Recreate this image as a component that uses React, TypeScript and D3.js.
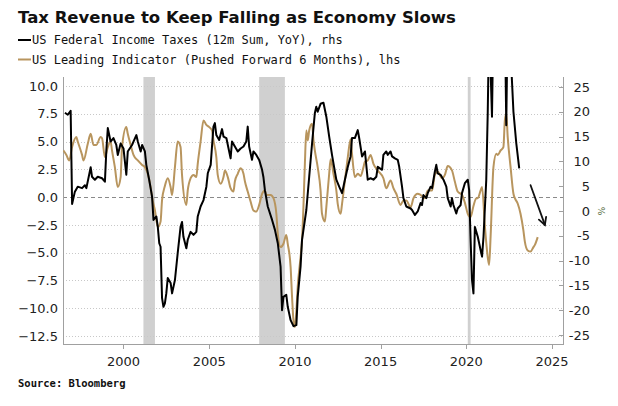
import React, { useEffect, useRef } from "react";
import * as d3 from "d3";

// US Federal Income Taxes (12m Sum, YoY), rhs
const federalTaxes: [string, number][] = [
  ["1996-08", 19.8], ["1996-10", 19.4], ["1996-12", 20.2], ["1997-01", 1.4],
  ["1997-03", 3.9], ["1997-05", 4.9], ["1997-08", 4.6], ["1997-10", 5.2],
  ["1997-11", 4.6], ["1998-02", 8.8], ["1998-03", 6.9], ["1998-05", 6.3],
  ["1998-07", 6.9], ["1998-10", 6.6], ["1998-12", 5.9], ["1999-01", 12.3],
  ["1999-02", 16.7], ["1999-04", 14.0], ["1999-06", 14.7], ["1999-08", 13.3],
  ["1999-09", 11.3], ["1999-11", 13.6], ["2000-01", 12.6], ["2000-03", 7.3],
  ["2000-04", 12.0], ["2000-07", 13.3], ["2000-08", 14.0], ["2000-10", 15.3],
  ["2000-11", 14.0], ["2001-01", 12.0], ["2001-02", 13.3], ["2001-04", 12.0],
  ["2001-05", 9.3], ["2001-07", 6.3], ["2001-09", 2.9], ["2001-10", -1.8],
  ["2001-12", -1.1], ["2002-01", -3.2], ["2002-02", -6.5], ["2002-03", -7.2],
  ["2002-04", -17.5], ["2002-05", -19.3], ["2002-06", -18.6], ["2002-07", -16.6],
  ["2002-08", -13.5], ["2002-10", -14.5], ["2002-11", -16.6], ["2003-01", -13.9],
  ["2003-03", -8.5], ["2003-05", -3.2], ["2003-06", -2.2], ["2003-07", -5.2],
  ["2003-09", -7.5], ["2003-10", -5.8], ["2003-12", -4.2], ["2004-02", -4.8],
  ["2004-04", -4.2], ["2004-05", -1.1], ["2004-07", 0.9], ["2004-09", 2.2],
  ["2004-11", 4.9], ["2004-12", 7.6], ["2005-02", 9.3], ["2005-03", 13.0],
  ["2005-04", 17.0], ["2005-05", 17.7], ["2005-06", 15.3], ["2005-08", 14.3],
  ["2005-10", 16.5], ["2005-11", 15.0], ["2006-01", 14.7], ["2006-02", 13.3],
  ["2006-04", 10.6], ["2006-05", 14.0], ["2006-07", 13.0], ["2006-09", 12.0],
  ["2006-11", 12.6], ["2007-01", 13.0], ["2007-03", 14.0], ["2007-04", 17.0],
  ["2007-05", 13.0], ["2007-07", 10.3], ["2007-08", 12.0], ["2007-10", 11.3],
  ["2007-12", 10.3], ["2008-02", 8.3], ["2008-03", 6.8], ["2008-04", 4.2],
  ["2008-06", 0.9], ["2008-09", -1.8], ["2008-11", -3.8], ["2009-01", -6.5],
  ["2009-03", -11.2], ["2009-04", -20.0], ["2009-05", -17.3], ["2009-07", -16.9],
  ["2009-08", -19.3], ["2009-10", -22.0], ["2009-12", -23.2], ["2010-02", -23.0],
  ["2010-03", -17.3], ["2010-05", -11.2], ["2010-06", -5.8], ["2010-09", 0.2],
  ["2010-11", 6.9], ["2011-01", 13.6], ["2011-03", 19.7], ["2011-04", 21.0],
  ["2011-05", 20.0], ["2011-07", 21.6], ["2011-09", 21.8], ["2011-11", 19.0],
  ["2012-01", 15.0], ["2012-03", 11.3], ["2012-04", 9.6], ["2012-06", 6.3],
  ["2012-08", 4.9], ["2012-10", 3.6], ["2012-12", 6.3], ["2013-02", 8.9],
  ["2013-04", 11.0], ["2013-05", 14.7], ["2013-07", 14.7], ["2013-09", 16.3],
  ["2013-10", 14.7], ["2013-12", 11.0], ["2014-02", 12.0], ["2014-04", 6.3],
  ["2014-06", 6.6], ["2014-08", 6.3], ["2014-10", 6.9], ["2014-11", 8.9],
  ["2015-02", 8.3], ["2015-03", 11.3], ["2015-05", 12.0], ["2015-06", 11.3],
  ["2015-08", 12.0], ["2015-09", 11.0], ["2015-11", 10.6], ["2016-01", 10.3],
  ["2016-02", 8.9], ["2016-04", 4.9], ["2016-05", 2.6], ["2016-07", 0.9],
  ["2016-10", 0.5], ["2016-11", 0.2], ["2017-01", -0.8], ["2017-03", -0.1],
  ["2017-05", 1.6], ["2017-06", 1.2], ["2017-07", 3.2], ["2017-09", 2.6],
  ["2017-10", 3.6], ["2017-12", 4.9], ["2018-01", 4.6], ["2018-03", 7.9],
  ["2018-04", 9.3], ["2018-05", 7.6], ["2018-07", 7.3], ["2018-09", 6.3],
  ["2018-11", 4.9], ["2018-12", 2.6], ["2019-02", 0.9], ["2019-03", 2.6],
  ["2019-04", 1.2], ["2019-06", -0.5], ["2019-07", 0.5], ["2019-09", 1.2],
  ["2019-10", 3.6], ["2019-12", 5.6], ["2020-02", 6.3], ["2020-03", 4.2],
  ["2020-04", -5.8], ["2020-05", -13.9], ["2020-06", -16.6], ["2020-07", -3.2],
  ["2020-09", -5.2], ["2020-11", -7.9], ["2020-12", -9.2], ["2021-01", -5.2],
  ["2021-03", 6.3], ["2021-04", 19.7], ["2021-05", 38], ["2021-07", 19.0],
  ["2021-08", 40], ["2021-10", 48], ["2022-01", 45], ["2022-04", 40],
  ["2022-05", 17.3], ["2022-06", 40], ["2022-08", 32], ["2022-10", 20],
  ["2022-12", 13.6], ["2023-02", 8.6],
];

// US Leading Indicator (Pushed Forward 6 Months), lhs
const leadingIndicator: [string, number][] = [
  ["1996-07", 4.2], ["1996-09", 3.8], ["1996-11", 3.3], ["1997-01", 4.5],
  ["1997-04", 5.4], ["1997-05", 5.0], ["1997-08", 3.8], ["1997-09", 3.3],
  ["1997-12", 4.8], ["1998-02", 5.7], ["1998-04", 4.7], ["1998-06", 4.7],
  ["1998-09", 5.4], ["1998-10", 5.3], ["1998-12", 3.6], ["1999-02", 4.5],
  ["1999-04", 5.0], ["1999-05", 4.2], ["1999-07", 2.7], ["1999-09", 0.9],
  ["1999-11", 1.8], ["1999-12", 4.5], ["2000-03", 6.3], ["2000-04", 5.7],
  ["2000-06", 4.7], ["2000-08", 3.8], ["2000-11", 3.3], ["2001-02", 2.9],
  ["2001-04", 2.7], ["2001-06", 2.1], ["2001-08", 0.9], ["2001-09", 0.0],
  ["2001-11", -1.2], ["2002-01", -2.7], ["2002-03", -2.2], ["2002-04", -0.3],
  ["2002-06", 1.0], ["2002-08", 1.7], ["2002-10", 0.9], ["2002-11", 0.2],
  ["2003-01", 2.7], ["2003-03", 5.0], ["2003-05", 4.5], ["2003-06", 2.0],
  ["2003-09", -0.7], ["2003-10", 0.6], ["2003-12", 1.7], ["2004-02", 2.0],
  ["2004-04", 1.8], ["2004-05", 3.0], ["2004-07", 5.0], ["2004-09", 6.9],
  ["2004-11", 6.5], ["2005-01", 6.3], ["2005-03", 6.0], ["2005-04", 5.1],
  ["2005-06", 3.6], ["2005-07", 2.0], ["2005-09", 1.2], ["2005-11", 1.8],
  ["2005-12", 2.4], ["2006-02", 1.8], ["2006-04", 0.8], ["2006-06", 0.5],
  ["2006-07", 1.4], ["2006-09", 2.1], ["2006-11", 2.6], ["2007-01", 2.1],
  ["2007-02", 1.4], ["2007-04", 0.5], ["2007-06", -0.4], ["2007-08", -1.2],
  ["2007-10", -1.3], ["2007-12", -0.7], ["2008-02", 0.3], ["2008-04", 0.6],
  ["2008-05", 0.2], ["2008-08", 0.2], ["2008-10", -0.1], ["2008-12", -1.5],
  ["2009-01", -3.3], ["2009-03", -4.5], ["2009-05", -4.2], ["2009-07", -3.4],
  ["2009-08", -4.2], ["2009-10", -6.3], ["2009-11", -9.0], ["2009-12", -11.1],
  ["2010-01", -11.7], ["2010-02", -10.2], ["2010-03", -8.1], ["2010-05", -5.4],
  ["2010-06", -3.9], ["2010-07", -0.9], ["2010-08", 3.0], ["2010-09", 6.0],
  ["2010-10", 5.1], ["2010-11", 6.0], ["2011-01", 6.6], ["2011-02", 5.1],
  ["2011-03", 4.2], ["2011-05", 2.7], ["2011-07", 0.6], ["2011-08", -1.5],
  ["2011-10", -2.2], ["2011-11", -0.9], ["2012-01", 2.1], ["2012-02", 3.4],
  ["2012-04", 2.1], ["2012-06", 0.6], ["2012-07", -0.6], ["2012-09", -1.5],
  ["2012-10", -0.6], ["2012-12", 1.5], ["2013-02", 3.6], ["2013-04", 5.2],
  ["2013-05", 3.9], ["2013-07", 1.8], ["2013-09", 2.1], ["2013-11", 1.9],
  ["2014-01", 2.7], ["2014-02", 3.2], ["2014-04", 3.3], ["2014-06", 3.8],
  ["2014-08", 3.0], ["2014-11", 2.4], ["2015-03", 1.7], ["2015-05", 0.8],
  ["2015-08", 1.5], ["2015-10", 0.8], ["2015-12", 0.3], ["2016-03", -0.7],
  ["2016-05", -0.3], ["2016-07", -0.3], ["2016-10", -0.9], ["2016-12", -0.1],
  ["2017-03", 0.3], ["2017-05", 0.2], ["2017-08", -0.1], ["2017-10", 0.6],
  ["2018-01", 0.6], ["2018-03", 2.0], ["2018-05", 2.3], ["2018-08", 1.7],
  ["2018-10", 2.0], ["2018-12", 2.8], ["2019-03", 2.4], ["2019-05", 1.4],
  ["2019-07", 0.5], ["2019-10", 0.2], ["2019-12", -0.5], ["2020-02", -1.5],
  ["2020-04", -1.8], ["2020-06", -0.8], ["2020-08", -0.1], ["2020-09", -0.1],
  ["2020-11", 0.6], ["2020-12", 0.9], ["2021-02", -2.7], ["2021-04", -5.4],
  ["2021-05", -6.1], ["2021-06", -3.6], ["2021-08", 2.7], ["2021-10", 3.9],
  ["2021-11", 3.8], ["2022-01", 4.2], ["2022-03", 4.5], ["2022-04", 6.9],
  ["2022-05", 7.5], ["2022-06", 5.4], ["2022-08", 2.7], ["2022-10", 0.3],
  ["2022-11", -0.1], ["2023-01", -0.6], ["2023-03", -1.5], ["2023-05", -3.0],
  ["2023-06", -4.0], ["2023-08", -4.8], ["2023-10", -4.9], ["2023-12", -4.5],
  ["2024-01", -4.3], ["2024-03", -3.6],
];

// NBER recessions
const recessions: [string, string][] = [
  ["2001-03", "2001-11"],
  ["2007-12", "2009-06"],
  ["2020-02", "2020-04"],
];

const leftTicks = [10, 7.5, 5, 2.5, 0, -2.5, -5, -7.5, -10, -12.5];
const rightTicks = [25, 20, 15, 10, 5, 0, -5, -10, -15, -20, -25];
const yearTicks = [2000, 2005, 2010, 2015, 2020, 2025];

// hand drawn arrow: start/end as [month, rhs value]
const arrowNote: [string, number][] = [
  ["2023-10", 5.2],
  ["2024-08", -2.8],
];

const title = "Tax Revenue to Keep Falling as Economy Slows";
const legendItems = [
  { label: "US Federal Income Taxes (12m Sum, YoY), rhs", color: "#000000" },
  { label: "US Leading Indicator (Pushed Forward 6 Months), lhs", color: "#b8955e" },
];

const TaxChart = () => {
  const ref = useRef<HTMLDivElement>(null);

  useEffect(() => {
    const width = 618;
    const height = 406;
    const plot = { left: 63, right: 563, top: 77, bottom: 344 };
    const parse = d3.timeParse("%Y-%m")!;
    const sans = "'DejaVu Sans', Verdana, sans-serif";
    const mono = "'DejaVu Sans Mono', monospace";

    const root = d3.select(ref.current);
    root.select("svg").remove();

    const svg = root
      .append("svg")
      .attr("width", width)
      .attr("height", height)
      .style("position", "absolute")
      .style("left", "0px")
      .style("top", "0px")
      .style("background", "#ffffff");

    const x = d3
      .scaleTime()
      .domain([new Date(1996, 5, 21), new Date(2025, 7, 22)])
      .range([plot.left, plot.right]);
    const yL = d3.scaleLinear().domain([-13.22, 10.81]).range([plot.bottom, plot.top]);
    const yR = d3.scaleLinear().domain([-26.8, 27.0]).range([plot.bottom, plot.top]);

    svg
      .append("defs")
      .append("clipPath")
      .attr("id", "plot-clip")
      .append("rect")
      .attr("x", plot.left)
      .attr("y", plot.top)
      .attr("width", plot.right - plot.left)
      .attr("height", plot.bottom - plot.top);

    // recession shading
    svg
      .append("g")
      .selectAll("rect")
      .data(recessions)
      .join("rect")
      .attr("x", (d) => x(parse(d[0])!))
      .attr("width", (d) => Math.max(2.5, x(parse(d[1])!) - x(parse(d[0])!)))
      .attr("y", plot.top)
      .attr("height", plot.bottom - plot.top)
      .attr("fill", "#d0d0d0");

    // dotted gridlines at left ticks
    svg
      .append("g")
      .selectAll("line")
      .data(leftTicks.filter((t) => t !== 0))
      .join("line")
      .attr("x1", plot.left)
      .attr("x2", plot.right)
      .attr("y1", (d) => Math.round(yL(d)) + 0.5)
      .attr("y2", (d) => Math.round(yL(d)) + 0.5)
      .attr("stroke", "#c8c8c8")
      .attr("stroke-width", 1)
      .attr("stroke-dasharray", "1,2");

    // zero line
    svg
      .append("line")
      .attr("x1", plot.left)
      .attr("x2", plot.right)
      .attr("y1", Math.round(yL(0)) + 0.5)
      .attr("y2", Math.round(yL(0)) + 0.5)
      .attr("stroke", "#8a8a8a")
      .attr("stroke-width", 1)
      .attr("stroke-dasharray", "4,3");

    // frame
    const frame = svg.append("g").attr("stroke", "#a0a0a0").attr("stroke-width", 1);
    frame.append("line").attr("x1", plot.left + 0.5).attr("x2", plot.left + 0.5).attr("y1", plot.top).attr("y2", plot.bottom);
    frame.append("line").attr("x1", plot.right + 0.5).attr("x2", plot.right + 0.5).attr("y1", plot.top).attr("y2", plot.bottom);
    frame.append("line").attr("x1", plot.left).attr("x2", plot.right + 1).attr("y1", plot.bottom + 0.5).attr("y2", plot.bottom + 0.5);

    // right ticks (inside)
    frame
      .selectAll("line.rt")
      .data(rightTicks)
      .join("line")
      .attr("class", "rt")
      .attr("x1", plot.right - 4)
      .attr("x2", plot.right)
      .attr("y1", (d) => Math.round(yR(d)) + 0.5)
      .attr("y2", (d) => Math.round(yR(d)) + 0.5);

    // x ticks
    frame
      .selectAll("line.xt")
      .data(yearTicks)
      .join("line")
      .attr("class", "xt")
      .attr("x1", (d) => Math.round(x(new Date(d, 0, 1))) + 0.5)
      .attr("x2", (d) => Math.round(x(new Date(d, 0, 1))) + 0.5)
      .attr("y1", plot.bottom)
      .attr("y2", plot.bottom + 5);

    // lines
    const lines = svg.append("g").attr("clip-path", "url(#plot-clip)");

    const leiLine = d3
      .line<[string, number]>()
      .x((d) => x(parse(d[0])!))
      .y((d) => yL(d[1]))
      .curve(d3.curveMonotoneX);

    const taxLine = d3
      .line<[string, number]>()
      .x((d) => x(parse(d[0])!))
      .y((d) => yR(d[1]));

    lines
      .append("path")
      .datum(leadingIndicator)
      .attr("d", leiLine)
      .attr("fill", "none")
      .attr("stroke", legendItems[1].color)
      .attr("stroke-width", 2)
      .attr("stroke-linejoin", "round");

    lines
      .append("path")
      .datum(federalTaxes)
      .attr("d", taxLine)
      .attr("fill", "none")
      .attr("stroke", legendItems[0].color)
      .attr("stroke-width", 2)
      .attr("stroke-linejoin", "round");

    // arrow annotation
    const [a0, a1] = arrowNote;
    const ax0 = x(parse(a0[0])!);
    const ay0 = yR(a0[1]);
    const ax1 = x(parse(a1[0])!);
    const ay1 = yR(a1[1]);
    const ang = Math.atan2(ay1 - ay0, ax1 - ax0);
    const head = 8;
    const arrow = svg.append("g").attr("stroke", "#111").attr("stroke-width", 1.8).attr("fill", "none").attr("stroke-linecap", "round");
    arrow.append("line").attr("x1", ax0).attr("y1", ay0).attr("x2", ax1).attr("y2", ay1);
    arrow
      .append("path")
      .attr(
        "d",
        `M${ax1 + head * Math.cos(ang + Math.PI - 0.5)},${ay1 + head * Math.sin(ang + Math.PI - 0.5)}L${ax1},${ay1}L${ax1 + head * Math.cos(ang + Math.PI + 0.5)},${ay1 + head * Math.sin(ang + Math.PI + 0.5)}`
      );

    // left axis labels
    svg
      .append("g")
      .selectAll("text")
      .data(leftTicks)
      .join("text")
      .attr("x", 58)
      .attr("y", (d) => yL(d))
      .attr("dy", "0.36em")
      .attr("text-anchor", "end")
      .style("font-family", sans)
      .style("font-size", "13px")
      .style("fill", "#222")
      .text((d) => d3.format(".1f")(d));

    // right axis labels
    svg
      .append("g")
      .selectAll("text")
      .data(rightTicks)
      .join("text")
      .attr("x", 590)
      .attr("y", (d) => yR(d))
      .attr("dy", "0.36em")
      .attr("text-anchor", "end")
      .style("font-family", sans)
      .style("font-size", "13px")
      .style("fill", "#222")
      .text((d) => String(d));

    // unit marker next to 0
    svg
      .append("text")
      .attr("transform", `translate(601, ${yR(0)}) rotate(90)`)
      .attr("text-anchor", "middle")
      .attr("dy", "0.35em")
      .style("font-family", sans)
      .style("font-size", "9px")
      .style("fill", "#4f6b3a")
      .text("%");

    // x axis labels
    svg
      .append("g")
      .selectAll("text")
      .data(yearTicks)
      .join("text")
      .attr("x", (d) => x(new Date(d, 0, 1)))
      .attr("y", 366)
      .attr("text-anchor", "middle")
      .style("font-family", sans)
      .style("font-size", "13px")
      .style("fill", "#222")
      .text((d) => String(d));

    // title
    svg
      .append("text")
      .attr("x", 18)
      .attr("y", 23)
      .style("font-family", sans)
      .style("font-weight", "bold")
      .style("font-size", "16.5px")
      .style("fill", "#111")
      .text(title);

    // legend
    const legend = svg
      .append("g")
      .selectAll("g")
      .data(legendItems)
      .join("g")
      .attr("transform", (_d, i) => `translate(18, ${44 + i * 19.5})`);
    legend
      .append("line")
      .attr("x1", 0)
      .attr("x2", 13)
      .attr("y1", -4)
      .attr("y2", -4)
      .attr("stroke", (d) => d.color)
      .attr("stroke-width", 2);
    legend
      .append("text")
      .attr("x", 14)
      .attr("y", 0)
      .style("font-family", mono)
      .style("font-size", "12px")
      .style("fill", "#111")
      .text((d) => d.label);

    // source
    svg
      .append("text")
      .attr("x", 18)
      .attr("y", 387)
      .style("font-family", mono)
      .style("font-weight", "bold")
      .style("font-size", "10.5px")
      .style("fill", "#111")
      .text("Source: Bloomberg");

    return () => {
      d3.select(ref.current).select("svg").remove();
    };
  }, []);

  return <div ref={ref}></div>;
};

export default function App() {
  return <TaxChart />;
}
